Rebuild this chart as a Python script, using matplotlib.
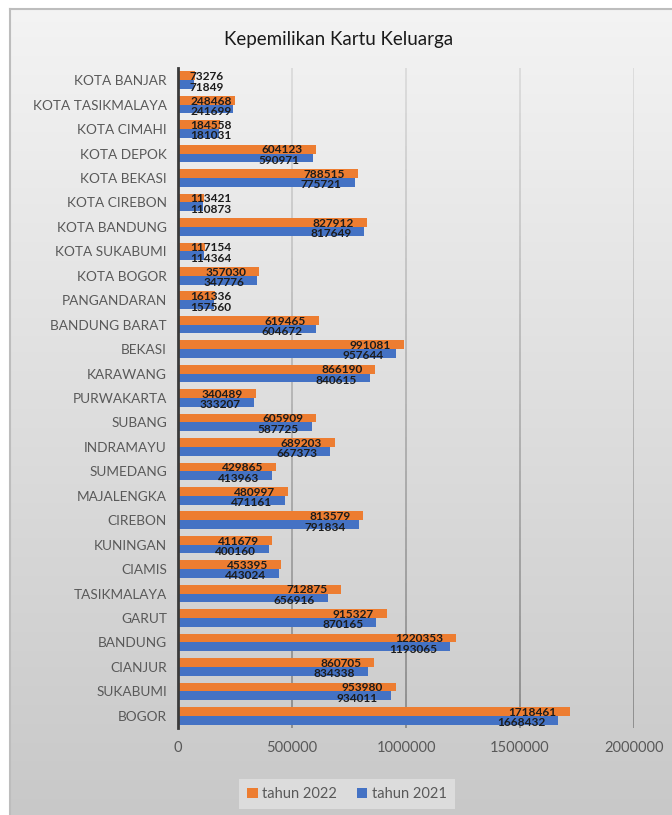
import numpy as np
import matplotlib
matplotlib.use("agg")
import matplotlib.pyplot as plt
from matplotlib.collections import LineCollection

# data, listed top to bottom as in the chart
kabkota = ['KOTA BANJAR', 'KOTA TASIKMALAYA', 'KOTA CIMAHI', 'KOTA DEPOK',
           'KOTA BEKASI', 'KOTA CIREBON', 'KOTA BANDUNG', 'KOTA SUKABUMI',
           'KOTA BOGOR', 'PANGANDARAN', 'BANDUNG BARAT', 'BEKASI', 'KARAWANG',
           'PURWAKARTA', 'SUBANG', 'INDRAMAYU', 'SUMEDANG', 'MAJALENGKA',
           'CIREBON', 'KUNINGAN', 'CIAMIS', 'TASIKMALAYA', 'GARUT', 'BANDUNG',
           'CIANJUR', 'SUKABUMI', 'BOGOR']
kk_2022 = [73276, 248468, 184558, 604123, 788515, 113421, 827912, 117154,
           357030, 161336, 619465, 991081, 866190, 340489, 605909, 689203,
           429865, 480997, 813579, 411679, 453395, 712875, 915327, 1220353,
           860705, 953980, 1718461]
kk_2021 = [71849, 241699, 181031, 590971, 775721, 110873, 817649, 114364,
           347776, 157560, 604672, 957644, 840615, 333207, 587725, 667373,
           413963, 471161, 791834, 400160, 443024, 656916, 870165, 1193065,
           834338, 934011, 1668432]
xticks = [0, 500000, 1000000, 1500000, 2000000]

ORANGE = '#ED7D31'
BLUE = '#4472C4'
GREY_TXT = '#595959'
FONT = 'Lato'
NUM_FONT = ['Liberation Sans Narrow', 'Lato']

W, H = 672, 815
fig = plt.figure(figsize=(W / 100, H / 100), dpi=100)
fig.patch.set_facecolor('white')

# chart area with vertical gradient, like the excel chart style
bg = fig.add_axes([10 / W, 0, 1 - 10 / W, 1 - 9 / H])
grad = np.linspace(0, 1, 256).reshape(-1, 1)
top_c, bot_c = np.array([0.955, 0.955, 0.955]), np.array([0.785, 0.785, 0.785])
img = top_c + (bot_c - top_c) * grad[:, :, None]
bg.imshow(img, aspect='auto', extent=[0, 1, 0, 1], origin='upper')
bg.set_xlim(0, 1)
bg.set_ylim(0, 1)
bg.axis('off')
fig.add_artist(plt.Line2D([10 / W, 1], [1 - 9 / H] * 2, color='#bdbdbd', lw=1.5,
                          transform=fig.transFigure))
fig.add_artist(plt.Line2D([10 / W] * 2, [0, 1 - 9 / H], color='#bdbdbd', lw=1.5,
                          transform=fig.transFigure))

ax_l, ax_r, ax_t, ax_b = 178, 634, 68, 728
ax = fig.add_axes([ax_l / W, 1 - ax_b / H, (ax_r - ax_l) / W, (ax_b - ax_t) / H])
ax.patch.set_alpha(0)

n = len(kabkota)
y = np.arange(n)[::-1]
h = 0.36
ax.barh(y + h / 2, kk_2022, height=h, color=ORANGE, label='tahun 2022', zorder=3)
ax.barh(y - h / 2, kk_2021, height=h, color=BLUE, label='tahun 2021', zorder=3)

ax.set_xlim(0, 2000000)
ax.set_ylim(-0.5, n - 0.5)
ax.set_yticks(y)
ax.set_yticklabels(kabkota, fontsize=9.8, color=GREY_TXT, family=FONT)
ax.set_xticks(xticks)
ax.set_xticklabels([str(t) for t in xticks], fontsize=10.5, color=GREY_TXT, family=FONT)
ax.tick_params(axis='y', length=0, pad=8)
ax.tick_params(axis='x', length=0, pad=9)
for s in ['top', 'right', 'bottom']:
    ax.spines[s].set_visible(False)
ax.spines['left'].set_color('#3a3a3a')
ax.spines['left'].set_linewidth(2)
ax.spines['left'].set_zorder(5)

# gridlines that darken towards the bottom
segs, cols = [], []
ys = np.linspace(-0.5, n - 0.5, 60)
for xt in xticks[1:]:
    for i in range(len(ys) - 1):
        segs.append([(xt, ys[i]), (xt, ys[i + 1])])
        f = 1 - (ys[i] + 0.5) / n
        g = 0.86 - 0.32 * f
        cols.append((g, g, g))
ax.add_collection(LineCollection(segs, colors=cols, linewidths=1.3, zorder=1))

# value labels: inside end, pushed right when the bar is too short
labels = []
for vals, off in [(kk_2022, h / 2 + 0.01), (kk_2021, -h / 2 - 0.06)]:
    for yy, v in zip(y, vals):
        t = ax.text(v, yy + off, str(v), ha='right', va='center_baseline',
                    fontsize=8.6, fontweight='bold', color='#1c1c1c',
                    family=NUM_FONT, zorder=6)
        labels.append((t, v))
fig.canvas.draw()
r = fig.canvas.get_renderer()
px_per_unit = (ax_r - ax_l) / 2000000
for t, v in labels:
    wpx = t.get_window_extent(r).width
    right_px = max(v * px_per_unit - 13, 12 + wpx)
    t.set_x(right_px / px_per_unit)

fig.text(339 / W, 1 - 40 / H, 'Kepemilikan Kartu Keluarga', ha='center', va='center',
         fontsize=13.5, color='#1a1a1a', family=FONT)

leg = fig.legend(loc='center', bbox_to_anchor=(347 / W, 1 - 794 / H), ncol=2,
                 frameon=True, fancybox=False, handlelength=0.7, handleheight=0.7,
                 handletextpad=0.3, columnspacing=1.4, borderpad=0.55,
                 prop={'family': FONT, 'size': 10.5})
leg.get_frame().set_facecolor('#dcdcdc')
leg.get_frame().set_edgecolor('none')
leg.get_frame().set_alpha(1)
for txt in leg.get_texts():
    txt.set_color(GREY_TXT)

fig.savefig('out.png', dpi=100)
